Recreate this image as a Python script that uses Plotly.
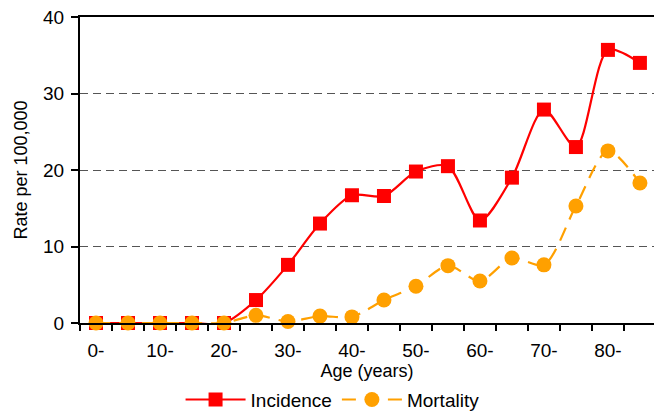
import plotly.graph_objects as go

ages = ["0-", "5-", "10-", "15-", "20-", "25-", "30-", "35-", "40-", "45-",
        "50-", "55-", "60-", "65-", "70-", "75-", "80-", "85-"]
incidence = [0, 0, 0, 0, 0, 3.0, 7.6, 13.0, 16.7, 16.6, 19.8, 20.5, 13.4, 19.0,
             27.9, 23.0, 35.7, 34.0]
mortality = [0, 0, 0, 0, 0, 1.0, 0.2, 0.9, 0.8, 3.0, 4.8, 7.5, 5.5, 8.5,
             7.6, 15.3, 22.5, 18.3]
y_ticks = [0, 10, 20, 30, 40]

xpos = list(range(len(ages)))
label_idx = xpos[::2]

FONT = "Liberation Sans, Arial, sans-serif"

fig = go.Figure()
fig.add_trace(go.Scatter(
    x=xpos, y=incidence, name="Incidence", mode="lines+markers",
    line=dict(color="#FF0000", width=2.2, shape="spline", smoothing=0.8),
    marker=dict(symbol="square", size=14, color="#FF0000"),
    cliponaxis=False,
))
fig.add_trace(go.Scatter(
    x=xpos, y=mortality, name="Mortality", mode="lines+markers",
    line=dict(color="#FFA000", width=2.2, dash="14px,9px", shape="spline", smoothing=0.8),
    marker=dict(symbol="circle", size=15, color="#FFA000"),
    cliponaxis=False,
))

fig.update_layout(
    width=654, height=412,
    margin=dict(l=80, r=0, t=17, b=89),
    plot_bgcolor="white", paper_bgcolor="white",
    font=dict(family=FONT, size=19, color="#000000"),
    showlegend=True,
    legend=dict(orientation="h", x=0.44, xanchor="center",
                yref="container", y=0.03, yanchor="middle",
                font=dict(size=19), itemwidth=60, tracegroupgap=0),
    xaxis=dict(
        range=[-0.5, 17.44], showgrid=False, zeroline=False, automargin=False,
        showline=True, linecolor="black", linewidth=2, mirror=True,
        tickmode="array", tickvals=label_idx, ticktext=[ages[i] for i in label_idx],
        ticks="", tickfont=dict(size=19), ticklabelstandoff=9,
        minor=dict(tick0=0.5, dtick=1, ticks="outside", ticklen=6, tickcolor="black", tickwidth=1.5),
        title=dict(text="Age (years)", font=dict(size=18), standoff=0),
    ),
    yaxis=dict(
        range=[0, 40], tickvals=y_ticks, ticks="outside", ticklen=7, tickcolor="black", tickwidth=1.5,
        showline=True, linecolor="black", linewidth=2, automargin=False,
        showgrid=True, gridcolor="#555555", gridwidth=1, griddash="8px,5px",
        zeroline=False, tickfont=dict(size=19), ticklabelstandoff=3,
        title=dict(text="Rate per 100,000", font=dict(size=18), standoff=11),
    ),
)

fig.write_html("out.html", config={"displayModeBar": False},
               post_script="document.body.style.margin='0';document.body.style.overflow='hidden';")
